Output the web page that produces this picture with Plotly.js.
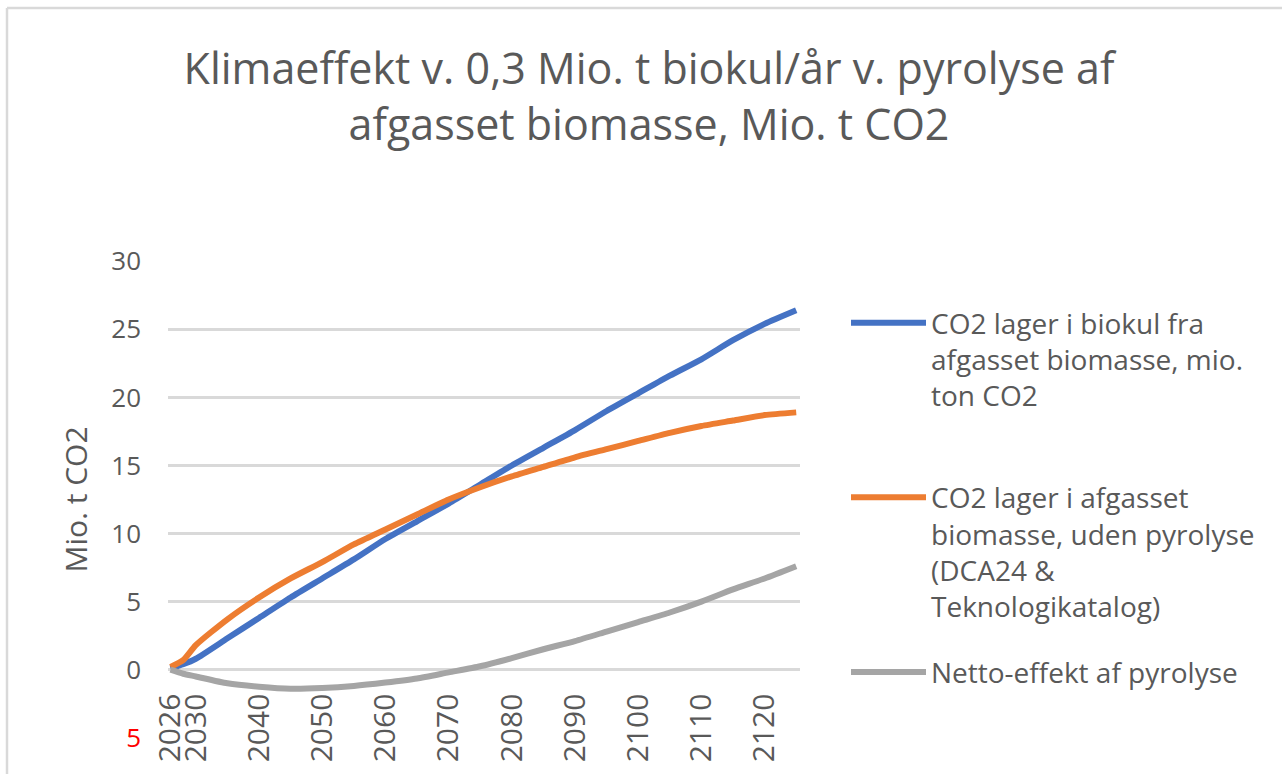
<!DOCTYPE html>
<html>
<head>
<meta charset="utf-8">
<script src="https://cdn.plot.ly/plotly-3.0.1.min.js"></script>
<style>html,body{margin:0;padding:0;background:#fff;}#chart{width:1287px;height:774px;}</style>
</head>
<body>
<div id="chart"></div>
<script>
// Years (x values)
const years = [2026, 2028, 2030, 2035, 2040, 2045, 2050, 2055, 2060, 2065, 2070, 2075, 2080, 2085, 2090, 2095, 2100, 2105, 2110, 2115, 2120, 2125];
// CO2 lager i biokul fra afgasset biomasse (mio. t CO2)
const biokul = [0.1, 0.4, 0.8, 2.3, 3.8, 5.3, 6.7, 8.1, 9.6, 10.9, 12.2, 13.6, 15.0, 16.3, 17.6, 19.0, 20.3, 21.6, 22.8, 24.2, 25.4, 26.4];
// CO2 lager i afgasset biomasse, uden pyrolyse
const udenPyrolyse = [0.2, 0.7, 1.8, 3.7, 5.3, 6.7, 7.9, 9.2, 10.3, 11.4, 12.5, 13.4, 14.2, 14.9, 15.6, 16.2, 16.8, 17.4, 17.9, 18.3, 18.7, 18.9];
// Netto-effekt af pyrolyse
const netto = [0.0, -0.3, -0.5, -1.0, -1.25, -1.4, -1.35, -1.2, -0.95, -0.65, -0.2, 0.25, 0.85, 1.5, 2.1, 2.8, 3.5, 4.2, 5.0, 5.9, 6.7, 7.6];

const xTickVals = [2026, 2030, 2040, 2050, 2060, 2070, 2080, 2090, 2100, 2110, 2120];
const xTickText = ['2026', '2030', '2040', '2050', '2060', '2070', '2080', '2090', '2100', '2110', '2120'];
const yTickVals = [-5, 0, 5, 10, 15, 20, 25, 30];
const yTickText = ['<span style="color:#FF0000">5</span>', '0', '5', '10', '15', '20', '25', '30'];

const seriesNames = [
  'CO2 lager i biokul fra<br>afgasset biomasse, mio.<br>ton CO2<br> ',
  'CO2 lager i afgasset<br>biomasse, uden pyrolyse<br>(DCA24 &amp;<br>Teknologikatalog)',
  'Netto-effekt af pyrolyse'
];
const seriesColors = ['#4472C4', '#ED7D31', '#A5A5A5'];
const seriesData = [biokul, udenPyrolyse, netto];

const FONT = '"Open Sans", Lato, sans-serif';
const TXT = '#595959';

const traces = seriesData.map((ys, i) => ({
  x: years, y: ys, type: 'scatter', mode: 'lines',
  name: seriesNames[i], legendgroup: 'g' + i,
  line: {color: seriesColors[i], width: 6, shape: 'spline', smoothing: 0.6},
  hoverinfo: 'skip'
}));

const L = 168, R = 800, T = 261, B = 738, W = 1287, H = 774;
const pw = R - L, ph = B - T;
const yr = [-5.02, 30.02];
const px2x = px => (px - L) / pw;
const px2y = py => (B - py) / ph;

const layout = {
  width: W, height: H,
  margin: {l: L, r: W - R, t: T, b: H - B, pad: 0},
  paper_bgcolor: '#ffffff', plot_bgcolor: '#ffffff',
  font: {family: FONT, color: TXT},
  title: {
    text: 'Klimaeffekt v. 0,3 Mio. t biokul/år v. pyrolyse af<br>afgasset biomasse, Mio. t CO2',
    font: {family: FONT, size: 43, color: TXT},
    x: 649 / W, xref: 'container', xanchor: 'center',
    y: 1 - 84 / H, yref: 'container', yanchor: 'top'
  },
  xaxis: {
    type: 'linear', range: [2025.6, 2125.6],
    tickmode: 'array', tickvals: xTickVals, ticktext: xTickText,
    tickangle: -90, tickfont: {family: FONT, size: 30, color: TXT},
    showgrid: false, zeroline: false, showline: false, ticks: '',
    anchor: 'free', position: (0 - yr[0]) / (yr[1] - yr[0]),
    ticklabelstandoff: 17, fixedrange: true
  },
  yaxis: {
    range: yr, tickmode: 'array', tickvals: yTickVals, ticktext: yTickText,
    tickfont: {family: FONT, size: 26, color: TXT},
    showgrid: true, gridcolor: '#D9D9D9', gridwidth: 2.5,
    zeroline: false, showline: false, ticks: '',
    ticklabelstandoff: 26,
    title: {text: 'Mio. t CO2', font: {family: FONT, size: 30, color: TXT}, standoff: 14},
    fixedrange: true
  },
  showlegend: true,
  legend: {
    x: px2x(846), xanchor: 'left', y: px2y(298), yanchor: 'top',
    font: {family: FONT, size: 28, color: TXT},
    valign: 'top', itemwidth: 75, tracegroupgap: 26,
    traceorder: 'grouped', bgcolor: 'rgba(0,0,0,0)', borderwidth: 0
  },
  shapes: [
    {type: 'line', xref: 'paper', yref: 'paper', x0: px2x(7), x1: px2x(7), y0: px2y(8), y1: px2y(800), line: {color: '#D9D9D9', width: 2.5}},
    {type: 'line', xref: 'paper', yref: 'paper', x0: px2x(7), x1: px2x(1282), y0: px2y(8), y1: px2y(8), line: {color: '#D9D9D9', width: 2.5}}
  ],
  hovermode: false
};

Plotly.newPlot('chart', traces, layout, {displayModeBar: false, staticPlot: true});
</script>
</body>
</html>
